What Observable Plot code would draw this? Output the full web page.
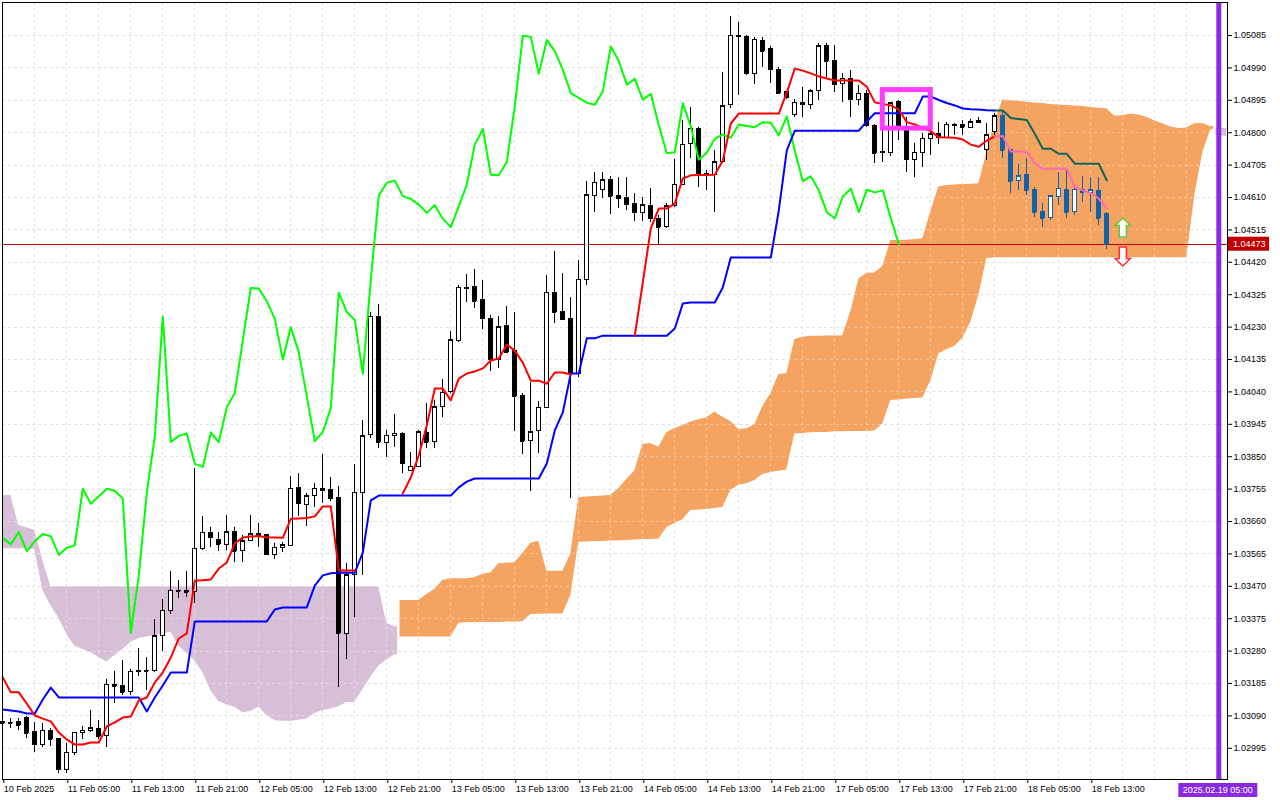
<!DOCTYPE html>
<html><head><meta charset="utf-8">
<script src="https://cdn.jsdelivr.net/npm/d3@7"></script>
<script src="https://cdn.jsdelivr.net/npm/@observablehq/plot@0.6"></script>
<style>html,body{margin:0;padding:0;background:#fff;} #chart svg{display:block;}</style>
</head><body><div id="chart"></div>
<script>
// ---------- data ----------
const timeLabels = ["10 Feb 2025","11 Feb 05:00","11 Feb 13:00","11 Feb 21:00","12 Feb 05:00","12 Feb 13:00","12 Feb 21:00","13 Feb 05:00","13 Feb 13:00","13 Feb 21:00","14 Feb 05:00","14 Feb 13:00","14 Feb 21:00","17 Feb 05:00","17 Feb 13:00","17 Feb 21:00","18 Feb 05:00","18 Feb 13:00"];
const barsPerLabel = 8;
const priceTicks = [1.02995,1.03090,1.03185,1.03280,1.03375,1.03470,1.03565,1.03660,1.03755,1.03850,1.03945,1.04040,1.04135,1.04230,1.04325,1.04420,1.04515,1.04610,1.04705,1.04800,1.04895,1.04990,1.05085];

const opens = [1.03071,1.03069,1.03072,1.03083,1.03044,1.03005,1.03047,1.03021,1.02932,1.02982,
1.03040,1.03045,1.03052,1.03030,1.03181,1.03179,1.03159,1.03220,1.03222,1.03221,
1.03325,1.03398,1.03457,1.03456,1.03453,1.03580,1.03627,1.03607,1.03592,1.03629,
1.03573,1.03604,1.03624,1.03621,1.03562,1.03583,1.03588,1.03759,1.03709,1.03734,
1.03754,1.03751,1.03730,1.03331,1.03502,1.03744,1.03914,1.04261,1.03890,1.03911,
1.03918,1.03809,1.03821,1.03920,1.03893,1.03995,1.04039,1.04189,1.04346,1.04349,
1.04310,1.04254,1.04135,1.04232,1.04159,1.04029,1.03896,1.03925,1.03993,1.04331,
1.04273,1.04254,1.04093,1.04369,1.04614,1.04633,1.04662,1.04613,1.04608,1.04591,
1.04565,1.04586,1.04548,1.04523,1.04585,1.04648,1.04768,1.04811,1.04678,1.04675,
1.04714,1.04880,1.05084,1.05082,1.04973,1.05070,1.05044,1.04985,1.04919,1.04852,
1.04888,1.04882,1.04921,1.05053,1.05010,1.04943,1.04958,1.04897,1.04914,1.04821,
1.04740,1.04740,1.04890,1.04818,1.04721,1.04741,1.04782,1.04795,1.04785,1.04824,
1.04822,1.04814,1.04833,1.04750,1.04801,1.04848,1.04748,1.04658,1.04675,1.04631,
1.04567,1.04549,1.04611,1.04633,1.04567,1.04633,1.04624,1.04628,1.04563];
const highs = [1.03079,1.03082,1.03082,1.03088,1.03072,1.03067,1.03053,1.03024,1.03008,1.03041,
1.03060,1.03106,1.03077,1.03197,1.03220,1.03252,1.03226,1.03287,1.03262,1.03372,
1.03431,1.03513,1.03487,1.03513,1.03815,1.03675,1.03642,1.03629,1.03678,1.03643,
1.03619,1.03678,1.03653,1.03623,1.03595,1.03599,1.03792,1.03800,1.03741,1.03771,
1.03856,1.03788,1.03763,1.03536,1.03826,1.03956,1.04272,1.04296,1.03927,1.03974,
1.03920,1.03861,1.03927,1.04005,1.04015,1.04075,1.04217,1.04352,1.04383,1.04398,
1.04367,1.04264,1.04261,1.04290,1.04274,1.04034,1.04068,1.04013,1.04381,1.04453,
1.04386,1.04318,1.04425,1.04657,1.04682,1.04682,1.04672,1.04670,1.04670,1.04623,
1.04611,1.04637,1.04557,1.04591,1.04721,1.04836,1.04875,1.04816,1.04689,1.04748,
1.04977,1.05141,1.05124,1.05084,1.05078,1.05078,1.05053,1.04992,1.04922,1.04897,
1.04932,1.04928,1.05062,1.05061,1.05056,1.04973,1.04982,1.04938,1.04924,1.04824,
1.04855,1.04890,1.04894,1.04845,1.04767,1.04797,1.04807,1.04831,1.04831,1.04826,
1.04836,1.04838,1.04845,1.04826,1.04855,1.04865,1.04750,1.04707,1.04723,1.04640,
1.04591,1.04613,1.04684,1.04694,1.04648,1.04672,1.04669,1.04668,1.04567];
const lows = [1.03056,1.03053,1.03047,1.03025,1.02984,1.02996,1.03000,1.02922,1.02920,1.02974,
1.03021,1.03040,1.03021,1.02998,1.03125,1.03150,1.03150,1.03206,1.03164,1.03218,
1.03280,1.03388,1.03433,1.03438,1.03419,1.03575,1.03585,1.03572,1.03575,1.03539,
1.03539,1.03604,1.03585,1.03562,1.03548,1.03570,1.03588,1.03675,1.03646,1.03702,
1.03712,1.03720,1.03172,1.03255,1.03379,1.03502,1.03904,1.03873,1.03847,1.03878,
1.03802,1.03809,1.03819,1.03873,1.03873,1.03966,1.04034,1.04186,1.04303,1.04285,
1.04223,1.04101,1.04108,1.04154,1.03925,1.03856,1.03748,1.03859,1.03993,1.04241,
1.04248,1.03727,1.04083,1.04352,1.04567,1.04606,1.04559,1.04577,1.04572,1.04540,
1.04540,1.04538,1.04469,1.04518,1.04582,1.04645,1.04723,1.04640,1.04631,1.04567,
1.04709,1.04870,1.04909,1.04968,1.04941,1.04992,1.04945,1.04914,1.04897,1.04844,
1.04845,1.04868,1.04894,1.04963,1.04919,1.04890,1.04845,1.04880,1.04815,1.04709,
1.04714,1.04730,1.04777,1.04684,1.04668,1.04699,1.04733,1.04765,1.04782,1.04792,
1.04792,1.04811,1.04826,1.04718,1.04792,1.04723,1.04621,1.04631,1.04616,1.04552,
1.04521,1.04544,1.04587,1.04548,1.04558,1.04596,1.04567,1.04528,1.04457];
const closes = [1.03068,1.03068,1.03062,1.03039,1.03005,1.03047,1.03021,1.02932,1.02982,1.03040,
1.03047,1.03054,1.03030,1.03181,1.03177,1.03159,1.03220,1.03222,1.03221,1.03323,
1.03399,1.03457,1.03456,1.03453,1.03580,1.03627,1.03612,1.03593,1.03629,1.03573,
1.03602,1.03623,1.03617,1.03562,1.03583,1.03590,1.03756,1.03712,1.03734,1.03756,
1.03750,1.03727,1.03333,1.03502,1.03744,1.03910,1.04261,1.03893,1.03911,1.03918,
1.03829,1.03820,1.03921,1.03893,1.03995,1.04037,1.04191,1.04345,1.04343,1.04306,
1.04254,1.04135,1.04230,1.04156,1.04027,1.03896,1.03922,1.03993,1.04331,1.04274,
1.04251,1.04093,1.04369,1.04616,1.04653,1.04660,1.04614,1.04606,1.04589,1.04565,
1.04588,1.04548,1.04523,1.04585,1.04648,1.04765,1.04811,1.04677,1.04675,1.04714,
1.04878,1.05084,1.05081,1.04973,1.05072,1.05039,1.04985,1.04916,1.04902,1.04888,
1.04882,1.04921,1.05053,1.05010,1.04941,1.04958,1.04897,1.04914,1.04821,1.04740,
1.04743,1.04887,1.04818,1.04721,1.04741,1.04782,1.04795,1.04785,1.04824,1.04820,
1.04816,1.04831,1.04829,1.04792,1.04848,1.04748,1.04658,1.04672,1.04631,1.04567,
1.04549,1.04613,1.04636,1.04567,1.04633,1.04625,1.04631,1.04549,1.04473];

// Tenkan-sen (red, gaps where the indicator draws nothing), then its late part (pink)
const tenkan = [1.03203,1.03159,1.03159,1.03126,1.03091,1.03082,1.03074,1.03041,1.03021,1.03006,
1.03006,1.03012,1.03012,1.03059,1.03071,1.03085,1.03088,1.03135,1.03144,1.03188,
1.03217,1.03261,1.03317,1.03332,1.03487,1.03488,1.03490,1.03522,1.03540,1.03596,
1.03613,1.03616,1.03617,1.03614,1.03613,1.03612,1.03668,1.03669,1.03670,1.03675,
1.03704,1.03704,1.03516,1.03516,1.03516,null,null,null,null,null,
1.03742,1.03789,1.03854,1.03942,1.04050,1.04050,1.04015,1.04079,1.04094,1.04100,
1.04109,1.04132,1.04138,1.04179,1.04161,1.04126,1.04073,1.04073,1.04064,1.04097,
1.04097,1.04091,null,null,null,null,null,null,null,1.04205,
1.04361,1.04519,1.04578,1.04578,1.04592,1.04666,1.04675,1.04676,1.04676,1.04677,
1.04718,1.04827,1.04856,1.04856,1.04856,1.04856,1.04856,1.04856,1.04918,1.04988,
1.04982,1.04974,1.04965,1.04959,1.04953,1.04953,1.04953,1.04953,1.04935,1.04889,
1.04884,1.04880,1.04868,1.04831,1.04824,1.04815,1.04804,1.04787,1.04786,1.04785,
1.04780,1.04765,1.04759,1.04777,1.04789];
const lateStart = 124;
const tenkanLate = [1.04789,1.04790,1.04745,1.04745,1.04743,1.04710,1.04694,1.04694,1.04694,1.04694,1.04642,1.04631,1.04623,1.04607,1.04577];

// Kijun-sen (blue), then its late part (dark green)
const kijun = [1.03109,1.03106,1.03103,1.03097,1.03097,1.03138,1.03173,1.03144,1.03144,1.03144,
1.03144,1.03144,1.03144,1.03144,1.03144,1.03144,1.03144,1.03144,1.03103,1.03144,
1.03179,1.03217,1.03217,1.03217,1.03367,1.03367,1.03367,1.03367,1.03367,1.03367,
1.03367,1.03367,1.03367,1.03367,1.03402,1.03408,1.03408,1.03408,1.03408,1.03472,
1.03502,1.03508,1.03510,1.03510,1.03510,1.03569,1.03722,1.03736,1.03736,1.03736,
1.03736,1.03736,1.03736,1.03736,1.03736,1.03736,1.03736,1.03760,1.03777,1.03786,
1.03786,1.03786,1.03786,1.03786,1.03786,1.03786,1.03786,1.03786,1.03830,1.03927,
1.03980,1.04094,1.04094,1.04197,1.04197,1.04205,1.04205,1.04205,1.04205,1.04205,
1.04205,1.04205,1.04205,1.04205,1.04226,1.04299,1.04302,1.04302,1.04302,1.04302,
1.04346,1.04434,1.04434,1.04434,1.04434,1.04434,1.04434,1.04572,1.04748,1.04806,
1.04806,1.04806,1.04806,1.04806,1.04806,1.04806,1.04806,1.04806,1.04833,1.04857,
1.04857,1.04857,1.04857,1.04857,1.04857,1.04906,1.04906,1.04896,1.04887,1.04880,
1.04871,1.04869,1.04868,1.04866,1.04865];
const kijunLate = [1.04865,1.04865,1.04843,1.04840,1.04837,1.04797,1.04753,1.04753,1.04738,1.04738,1.04709,1.04709,1.04709,1.04709,1.04660];

// Senkou spans (already shifted forward), bars 0..153
const spanA = [1.03580,1.03580,1.03580,1.03580,1.03578,1.03458,1.03414,1.03376,1.03329,1.03294,
1.03285,1.03276,1.03261,1.03248,1.03267,1.03285,1.03305,1.03317,1.03321,1.03325,
1.03330,1.03335,1.03294,1.03274,1.03252,1.03217,1.03164,1.03132,1.03123,1.03115,
1.03099,1.03103,1.03116,1.03091,1.03076,1.03074,1.03074,1.03077,1.03081,1.03097,
1.03106,1.03110,1.03117,1.03129,1.03129,1.03167,1.03203,1.03236,1.03254,1.03269,
1.03428,1.03428,1.03428,1.03446,1.03461,1.03487,1.03492,1.03492,1.03492,1.03496,
1.03505,1.03509,1.03536,1.03538,1.03539,1.03566,1.03596,1.03602,1.03514,1.03514,
1.03514,1.03565,1.03730,1.03732,1.03733,1.03735,1.03736,1.03757,1.03783,1.03808,
1.03886,1.03889,1.03878,1.03921,1.03933,1.03941,1.03952,1.03958,1.03964,1.03981,
1.03966,1.03953,1.03930,1.03932,1.03944,1.03997,1.04035,1.04091,1.04093,1.04194,
1.04200,1.04203,1.04203,1.04204,1.04204,1.04205,1.04276,1.04370,1.04388,1.04389,
1.04408,1.04484,1.04484,1.04485,1.04487,1.04489,1.04568,1.04641,1.04645,1.04647,
1.04648,1.04649,1.04650,1.04741,1.04831,1.04897,1.04894,1.04892,1.04889,1.04887,
1.04886,1.04883,1.04881,1.04880,1.04878,1.04877,1.04874,1.04872,1.04870,1.04848,
1.04850,1.04855,1.04852,1.04845,1.04834,1.04826,1.04817,1.04812,1.04814,1.04826,
1.04827,1.04818,1.04792,1.04789];
const spanB = [1.03736,1.03736,1.03648,1.03642,1.03634,1.03546,1.03469,1.03469,1.03469,1.03469,
1.03469,1.03469,1.03469,1.03469,1.03469,1.03469,1.03469,1.03469,1.03469,1.03469,
1.03469,1.03469,1.03469,1.03469,1.03469,1.03469,1.03469,1.03469,1.03469,1.03469,
1.03469,1.03469,1.03469,1.03469,1.03469,1.03469,1.03469,1.03469,1.03469,1.03469,
1.03469,1.03469,1.03469,1.03469,1.03469,1.03469,1.03469,1.03469,1.03361,1.03352,
1.03321,1.03321,1.03321,1.03321,1.03321,1.03321,1.03321,1.03362,1.03363,1.03364,
1.03364,1.03364,1.03364,1.03365,1.03365,1.03366,1.03387,1.03388,1.03389,1.03389,
1.03389,1.03443,1.03599,1.03600,1.03601,1.03601,1.03603,1.03603,1.03604,1.03606,
1.03607,1.03607,1.03609,1.03642,1.03654,1.03665,1.03692,1.03694,1.03695,1.03698,
1.03701,1.03751,1.03766,1.03771,1.03780,1.03798,1.03804,1.03807,1.03811,1.03917,
1.03918,1.03920,1.03921,1.03921,1.03923,1.03923,1.03924,1.03924,1.03924,1.03925,
1.03946,1.04015,1.04016,1.04019,1.04021,1.04022,1.04073,1.04151,1.04164,1.04173,
1.04197,1.04244,1.04323,1.04431,1.04433,1.04433,1.04433,1.04433,1.04433,1.04433,
1.04433,1.04433,1.04433,1.04433,1.04433,1.04433,1.04433,1.04433,1.04433,1.04433,
1.04433,1.04433,1.04433,1.04433,1.04433,1.04433,1.04433,1.04433,1.04433,1.04616,
1.04742,1.04809,1.04812,1.04812];

const chikouShift = 26;
const highlightFrom = 125;          // candles painted blue by the signal indicator
const lastPrice = 1.04473;
const nowBar = 152, nowLabel = "2025.02.19 05:00";
const signalBar = 140, buyArrowPrice = 1.04522, sellArrowPrice = 1.04437;
const boxBars = [110, 116], boxPrices = [1.04812, 1.04925];

// ---------- colours ----------
const C = {
  grid: "#d2d2d2", orange: "#F4A460", thistle: "#D8BFD8",
  tenkan: "#ff0000", kijun: "#0000ff", chikou: "#00ff00",
  pink: "#ff69b4", teal: "#106458", blue: "#1660a8",
  price: "#c00000", now: "#8a2be2", box: "#ff3cff"
};

// ---------- derived tables ----------
const candles = opens.map((o, i) => ({i, o, h: highs[i], l: lows[i], c: closes[i], hl: i >= highlightFrom}));
const series = (vals, start = 0) => vals.map((v, k) => ({i: start + k, v}));
const chikou = closes.slice(chikouShift).map((v, k) => ({i: k, v}));
const candleStroke = d => d.hl ? C.blue : "#000";
const candleFill = d => d.c >= d.o ? "#fff" : (d.hl ? C.blue : "#000");

const kumo = spanA.map((a, i) => ({i, a, b: spanB[i], up: a >= spanB[i]}));
const segs = [];
for (const d of kumo) {
  const last = segs[segs.length - 1];
  if (last && last.up === d.up) last.pts.push(d); else segs.push({up: d.up, pts: [d]});
}
segs.forEach((s, k) => {
  if (k > 0) { const f = s.pts[0]; s.pts.unshift({...f, i: f.i - 0.35}); }
  if (k < segs.length - 1) { const l = s.pts[s.pts.length - 1]; s.pts.push({...l, i: l.i + 0.35}); }
});

const labelBars = timeLabels.map((_, k) => k * barsPerLabel);
const gridBars = d3.range(4, 153, 4);

const arrowUp = {draw(ctx) {
  ctx.moveTo(0, -9.5); ctx.lineTo(7.6, -2); ctx.lineTo(3.6, -2); ctx.lineTo(3.6, 9.5);
  ctx.lineTo(-3.6, 9.5); ctx.lineTo(-3.6, -2); ctx.lineTo(-7.6, -2); ctx.closePath();
}};
const arrowDown = {draw(ctx) {
  ctx.moveTo(0, 9.5); ctx.lineTo(7.6, 2); ctx.lineTo(3.6, 2); ctx.lineTo(3.6, -9.5);
  ctx.lineTo(-3.6, -9.5); ctx.lineTo(-3.6, 2); ctx.lineTo(-7.6, 2); ctx.closePath();
}};

const crisp = {shapeRendering: "crispEdges"};

const chart = Plot.plot({
  width: 1280, height: 800,
  marginLeft: 2, marginRight: 53, marginTop: 2, marginBottom: 21,
  x: {type: "linear", domain: [-0.0375, 153.0875]},
  y: {type: "linear", domain: [1.029035, 1.051818]},
  style: {fontFamily: "'Liberation Sans', Arial, sans-serif", fontSize: "9px", background: "#fff", color: "#000", overflow: "visible"},
  marks: [
    Plot.gridX(gridBars, {stroke: C.grid, strokeOpacity: 1, strokeDasharray: "3,3", ...crisp}),
    Plot.gridY(priceTicks, {stroke: C.grid, strokeOpacity: 1, strokeDasharray: "3,3", ...crisp}),
    ...segs.map(s => Plot.areaY(s.pts, {x: "i", y1: "a", y2: "b", fill: s.up ? C.orange : C.thistle})),
    Plot.gridX(gridBars, {stroke: "#fff", strokeOpacity: 0.35, strokeDasharray: "3,3", ...crisp}),
    Plot.gridY(priceTicks, {stroke: "#fff", strokeOpacity: 0.35, strokeDasharray: "3,3", ...crisp}),
    Plot.ruleY([lastPrice], {stroke: C.price, strokeWidth: 1, ...crisp}),
    // candles
    Plot.ruleX(candles, {x: "i", y1: "l", y2: "h", stroke: candleStroke, strokeWidth: 1, ...crisp}),
    Plot.rect(candles, {x1: d => d.i - 0.5, x2: d => d.i + 0.5, y1: "o", y2: "c", insetLeft: 2, insetRight: 2,
      fill: candleFill, stroke: candleStroke, strokeWidth: 1, ...crisp}),
    Plot.ruleY(candles, {y: "c", x1: d => d.i - 0.25, x2: d => d.i + 0.25, stroke: candleStroke, ...crisp}),
    // Ichimoku lines
    Plot.line(chikou, {x: "i", y: "v", stroke: C.chikou, strokeWidth: 2}),
    Plot.line(series(kijun), {x: "i", y: "v", stroke: C.kijun, strokeWidth: 2}),
    Plot.line(series(kijunLate, lateStart), {x: "i", y: "v", stroke: C.teal, strokeWidth: 2}),
    Plot.line(series(tenkan), {x: "i", y: "v", stroke: C.tenkan, strokeWidth: 2}),
    Plot.line(series(tenkanLate, lateStart), {x: "i", y: "v", stroke: C.pink, strokeWidth: 2}),
    // annotations
    Plot.rect([{x1: boxBars[0], x2: boxBars[1], y1: boxPrices[0], y2: boxPrices[1]}],
      {x1: "x1", x2: "x2", y1: "y1", y2: "y2", fill: "none", stroke: C.box, strokeWidth: 5}),
    Plot.dot([{i: signalBar, v: buyArrowPrice}], {x: "i", y: "v", symbol: arrowUp, fill: "#fff", stroke: "#5cc83a", strokeWidth: 1.5}),
    Plot.dot([{i: signalBar, v: sellArrowPrice}], {x: "i", y: "v", symbol: arrowDown, fill: "#fff", stroke: "#ff2a2a", strokeWidth: 1.5}),
    Plot.ruleX([nowBar], {x: d => d, stroke: C.now, strokeWidth: 5}),
    Plot.frame({stroke: "#000", ...crisp}),
    Plot.axisY(priceTicks, {anchor: "right", tickSize: 4, tickPadding: 2, fontSize: 9, tickFormat: d => d.toFixed(5), label: null}),
    Plot.axisX(labelBars, {anchor: "bottom", tickSize: 4, tickPadding: 2, fontSize: 9, textAnchor: "start", dx: 1,
      tickFormat: d => timeLabels[d / barsPerLabel], label: null})
  ]
});
document.getElementById("chart").appendChild(chart);

// price and time labels in the margins, positioned with the plot's own scales
const sx = chart.scale("x"), sy = chart.scale("y");
const svg = d3.select(chart);
const right = sx.range[1], bottom = sy.range[0];
const py = sy.apply(lastPrice);
const g = svg.append("g").attr("font-family", "'Liberation Sans', Arial, sans-serif").attr("font-size", 9);
g.append("rect").attr("x", right + 1).attr("y", py - 7).attr("width", 41).attr("height", 14).attr("fill", C.price);
g.append("text").attr("x", right + 6).attr("y", py).attr("dy", "0.34em").attr("text-anchor", "start").attr("fill", "#fff").text(lastPrice.toFixed(5));
const nx = sx.apply(nowBar);
g.append("rect").attr("x", nx - 40).attr("y", bottom + 4).attr("width", 79).attr("height", 14).attr("fill", C.now);
g.append("text").attr("x", nx - 0.5).attr("y", bottom + 11).attr("dy", "0.34em").attr("text-anchor", "middle").attr("fill", "#fff").text(nowLabel);
</script>
</body></html>
